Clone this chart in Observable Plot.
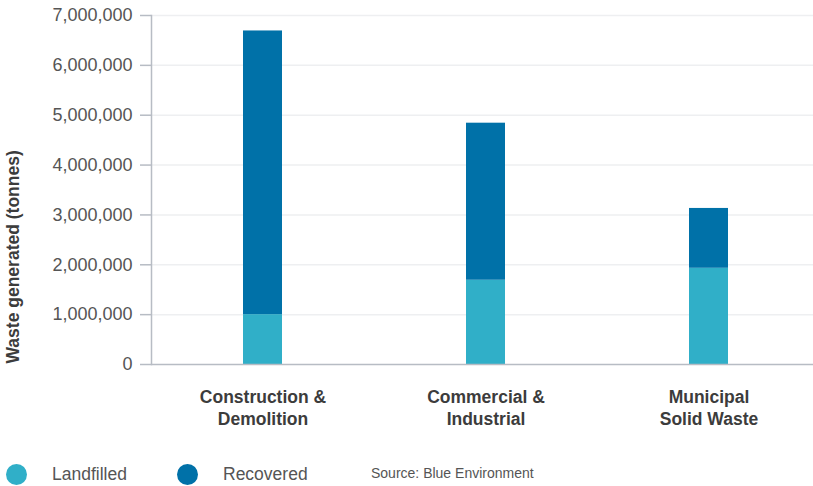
<!DOCTYPE html>
<html>
<head>
<meta charset="utf-8">
<script src="https://cdn.jsdelivr.net/npm/d3@7"></script>
<script src="https://cdn.jsdelivr.net/npm/@observablehq/plot@0.6"></script>
<style>
  html, body { margin: 0; padding: 0; background: #fff; }
  body { font-family: "Liberation Sans", Arial, Helvetica, sans-serif; }
  #wrap { position: relative; width: 813px; height: 486px; overflow: hidden; }
  #wrap svg { display: block; }
  .legend { position: absolute; left: 0; top: 450px; width: 813px; height: 36px; }
  .legend .dot { position: absolute; top: 14px; width: 21px; height: 21px; border-radius: 50%; }
  .legend .lab { position: absolute; top: 14px; line-height: 21px; font-size: 17.5px; color: #555; white-space: nowrap; }
  .legend .src { position: absolute; top: 13px; line-height: 20px; font-size: 14px; color: #555; white-space: nowrap; }
</style>
</head>
<body>
<div id="wrap"></div>
<script>
// Waste generated by stream, split into landfilled and recovered tonnes
const categories = ["Construction & Demolition", "Commercial & Industrial", "Municipal Solid Waste"];
const categoryLines = ["Construction &\nDemolition", "Commercial &\nIndustrial", "Municipal\nSolid Waste"];
const series = ["Landfilled", "Recovered"];
const landfilled = [1000000, 1690000, 1930000];
const recovered = [5690000, 3150000, 1200000];
const yTicks = [0, 1000000, 2000000, 3000000, 4000000, 5000000, 6000000, 7000000];
const seriesColors = ["#30afc8", "#0071a8"];
const yLabel = "Waste generated (tonnes)";
const source = "Source: Blue Environment";

const rows = categories.flatMap((c, i) => [
  {category: c, type: series[0], value: landfilled[i]},
  {category: c, type: series[1], value: recovered[i]}
]);

const axisColor = "#b7bcc4";
const font = "Liberation Sans, Arial, Helvetica, sans-serif";

const chart = Plot.plot({
  width: 813,
  height: 450,
  marginTop: 15,
  marginBottom: 86,
  marginLeft: 151,
  marginRight: 0,
  style: {fontFamily: font, background: "#fff", overflow: "visible"},
  x: {domain: categories, paddingInner: 0.8254, paddingOuter: 0.394, align: 0.52, label: null},
  y: {domain: [0, 7000000], label: null},
  color: {domain: series, range: seriesColors},
  marks: [
    Plot.gridY(yTicks.slice(1), {stroke: "#eeeff1", strokeOpacity: 1, strokeWidth: 1.5}),
    Plot.axisY(yTicks, {
      tickSize: 11, tickPadding: 8, stroke: axisColor, strokeWidth: 1.5,
      fill: "#555", fontSize: 18, tickFormat: d3.format(","), label: null
    }),
    Plot.axisX({
      tickSize: 0, tickPadding: 23, fontSize: 17.5, fontWeight: "bold", fill: "#3c3c3c",
      lineHeight: 1.25, tickFormat: d => categoryLines[categories.indexOf(d)], label: null
    }),
    Plot.barY(rows, {x: "category", y: "value", fill: "type"}),
    Plot.frame({anchor: "left", stroke: axisColor, strokeWidth: 1.5}),
    Plot.ruleY([0], {stroke: axisColor, strokeWidth: 1.5}),
    Plot.text([yLabel], {
      text: d => d, frameAnchor: "bottom-left", rotate: -90, textAnchor: "start",
      dx: -133, dy: -1, fontSize: 17.5, fontWeight: "bold", fill: "#3c3c3c"
    })
  ]
});

const wrap = document.getElementById("wrap");
wrap.appendChild(chart);

// Legend and source line below the plot
const legend = document.createElement("div");
legend.className = "legend";
const dotLeft = [6, 177];
const labLeft = [52, 223];
series.forEach((s, i) => {
  const dot = document.createElement("span");
  dot.className = "dot";
  dot.style.left = dotLeft[i] + "px";
  dot.style.background = seriesColors[i];
  legend.appendChild(dot);
  const lab = document.createElement("span");
  lab.className = "lab";
  lab.style.left = labLeft[i] + "px";
  lab.textContent = s;
  legend.appendChild(lab);
});
const src = document.createElement("span");
src.className = "src";
src.style.left = "371px";
src.textContent = source;
legend.appendChild(src);
wrap.appendChild(legend);
</script>
</body>
</html>
